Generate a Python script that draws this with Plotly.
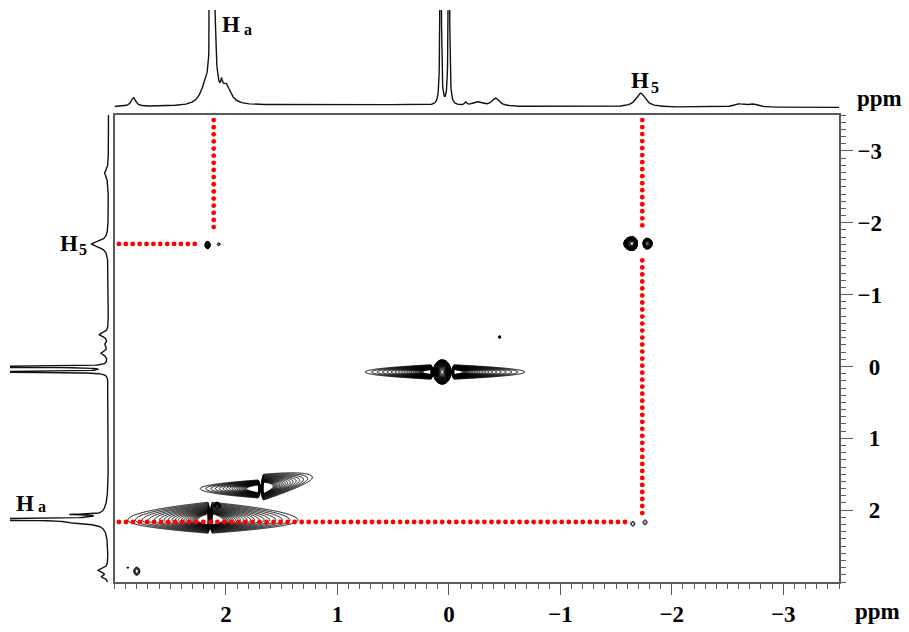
import numpy as np
import plotly.graph_objects as go

# ---------------- axes (ppm) ----------------
F2_RANGE = [3.0, -3.5]          # left -> right
F1_RANGE = [3.0, -3.5]          # bottom -> top
F2_TICKS = [2, 1, 0, -1, -2, -3]
F1_TICKS = [-3, -2, -1, 0, 1, 2]

# assigned shifts used for the correlation guides
HA_F2, HA_F1 = 2.11, 2.165
H5_F2, H5_F1 = -1.735, -1.705

# ---------------- 1D projection along F2 (top trace) ----------------
top_pos    = [2.83, 2.19, 2.12, 2.04, 2.00, 1.00, 0.074, 0.00, -0.15, -0.25, -0.42, -1.72, -2.60, -2.72]
top_height = [9,    14,   800,  8,    18,   3.5,  400,   400,  3,     4,     8,     14,    3,     3]
top_hw     = [0.025, 0.05, 0.008, 0.008, 0.05, 0.9, 0.004, 0.004, 0.01, 0.05, 0.04, 0.05, 0.05, 0.05]

# ---------------- 1D projection along F1 (left trace) ----------------
left_pos    = [-2.68, -1.70, -0.44, -0.30, -0.18, 0.005, 0.075, 2.06, 2.13, 2.17, 2.10, 2.84, 2.93]
left_height = [4,     17,    9,     3,     7,     400,   400,   30,   400,  30,   5,    10,   6]
left_hw     = [0.06,  0.05,  0.03,  0.03,  0.03,  0.004, 0.004, 0.006, 0.006, 0.025, 0.15, 0.03, 0.02]

# ---------------- 2D cross / diagonal peaks ----------------
# kind "P": fan-shaped lobe whose nested contours converge on (f2, f1)
# kind "G": compact Gaussian spot
# ext_*: outer-contour reach from the centre (ppm) toward higher/lower F2 and lower/higher F1
pk_kind    = ["P",   "P",   "P",   "P",   "G",   "P",   "P",    "G",   "G",    "G",    "G",    "G",    "G",   "G",   "G",   "G",   "G"]
pk_f2      = [2.16,  2.125, 1.71,  1.665, 2.08,  0.16,  -0.045, 0.06,  -0.455, -1.645, -1.775, 2.165,  2.065, -1.65, -1.76, 2.80,  2.88]
pk_f1      = [2.14,  2.14,  1.70,  1.70,  1.95,  0.077, 0.077,  0.077, -0.41,  -1.71,  -1.71,  -1.69,  -1.70, 2.19,  2.17,  2.85,  2.80]
pk_k       = [6.0,   6.0,   5.0,   5.0,   4.0,   6.0,   6.0,    8.0,   1.0,    6.0,    4.0,    4.0,    0.5,   0.5,   0.5,   1.2,   0.6]
pk_ext_hi  = [0.72,  0.02,  0.52,  0.02,  0.035, 0.59,  0.02,   0.08,  0.0113, 0.076,  0.034,  0.0226, 0.013, 0.018, 0.018, 0.027, 0.0066]
pk_ext_lo  = [0.02,  0.77,  0.02,  0.44,  0.035, 0.02,  0.635,  0.08,  0.0113, 0.048,  0.051,  0.0226, 0.013, 0.018, 0.018, 0.027, 0.0066]
pk_ext_neg = [0.25,  0.25,  0.12,  0.20,  0.06,  0.10,  0.10,   0.17,  0.017,  0.097,  0.076,  0.051,  0.02,  0.033, 0.033, 0.056, 0.0099]
pk_ext_pos = [0.18,  0.18,  0.13,  0.16,  0.06,  0.10,  0.10,   0.17,  0.017,  0.097,  0.076,  0.051,  0.02,  0.033, 0.033, 0.056, 0.0099]
pk_tilt    = [0.0,   0.0,   0.0,   0.35,  0.0,   0.0,   0.0,    0.0,   0.0,    0.0,    0.0,    0.0,    0.0,   0.0,   0.0,   0.0,   0.0]

LOBE_VEXP = 2.0    # F1 exponent of the fan lobes (ring height shrinks slower than length)
LOBE_Q = 3.0       # log-intensity fall-off of the fan lobes
LEVEL_STEP = 0.3   # contour spacing in log intensity (geometric levels)

# grids on which the 2D map is evaluated: (f2_min, f2_max, f1_min, f1_max, step_f2, step_f1)
regions = [
    (1.10, 3.00, 1.30, 3.00, 0.004, 0.005),
    (-0.90, 0.90, -0.50, 0.40, 0.004, 0.005),
    (1.90, 2.35, -1.85, -1.55, 0.002, 0.002),
    (-1.95, -1.45, -1.90, -1.50, 0.002, 0.002),
    (-1.90, -1.50, 2.00, 2.40, 0.002, 0.002),
]

W, H = 909, 632
X0_PX, X1_PX = 114.5, 839.0
Y0_PX, Y1_PX = 115.0, 582.0
PX_PER_PPM_X = (X1_PX - X0_PX) / (F2_RANGE[0] - F2_RANGE[1])
PX_PER_PPM_Y = (Y1_PX - Y0_PX) / (F1_RANGE[0] - F1_RANGE[1])


def px(x):
    return x / W


def py(y):
    return 1 - y / H


def lorentz_sum(axis, pos, hgt, hw):
    out = np.zeros_like(axis)
    for p, h, w in zip(pos, hgt, hw):
        out += h / (1 + ((axis - p) / w) ** 2)
    return out


def log_peak(F2, F1, i):
    dx = F2 - pk_f2[i]
    dy = F1 - (pk_f1[i] + pk_tilt[i] * dx)
    ex = np.where(dx >= 0, pk_ext_hi[i], pk_ext_lo[i])
    ey = np.where(dy >= 0, pk_ext_pos[i], pk_ext_neg[i])
    u = np.abs(dx) / ex
    v = np.abs(dy) / ey
    if pk_kind[i] == "G":
        return pk_k[i] * (1 - u ** 2 - v ** 2)
    d = u + v ** LOBE_VEXP
    return np.minimum(pk_k[i], -LOBE_Q * np.log(np.maximum(d, 1e-9)))


fig = go.Figure()

# ---- 2D contour map (log intensity -> geometric contour levels) ----
for (a, b, c, d, sx, sy) in regions:
    f2 = np.arange(a, b + sx / 2, sx)
    f1 = np.arange(c, d + sy / 2, sy)
    F2, F1 = np.meshgrid(f2, f1)
    z = np.full(F2.shape, -1.0)
    for i in range(len(pk_f2)):
        z = np.maximum(z, log_peak(F2, F1, i))
    z = np.clip(z, -0.5, None).astype(np.float32)
    fig.add_trace(go.Contour(
        x=np.round(f2, 4), y=np.round(f1, 4), z=z,
        xaxis="x", yaxis="y",
        autocontour=False,
        contours=dict(start=0, end=max(pk_k), size=LEVEL_STEP, coloring="lines", showlines=True),
        colorscale=[[0, "black"], [1, "black"]],
        line=dict(width=1.0, smoothing=1),
        showscale=False, hoverinfo="skip",
    ))

# ---- red dotted correlation guides ----
def dotted(f2a, f1a, f2b, f1b, skip_center=None, skip_half=0.0):
    dist_px = np.hypot((f2b - f2a) * PX_PER_PPM_X, (f1b - f1a) * PX_PER_PPM_Y)
    n = int(round(dist_px / 7.0)) + 1
    t = np.linspace(0, 1, n)
    xs = f2a + (f2b - f2a) * t
    ys = f1a + (f1b - f1a) * t
    if skip_center is not None:
        keep = np.abs(ys - skip_center) > skip_half
        xs, ys = xs[keep], ys[keep]
    return xs, ys

guides = [
    dotted(HA_F2, -3.43, HA_F2, -1.94),
    dotted(2.96, H5_F1, 2.28, H5_F1),
    dotted(2.96, HA_F1, -1.58, HA_F1),
    dotted(H5_F2, -3.43, H5_F2, 2.04, skip_center=H5_F1, skip_half=0.17),
]
for xs, ys in guides:
    fig.add_trace(go.Scatter(
        x=xs, y=ys, mode="markers", xaxis="x", yaxis="y",
        marker=dict(size=4.8, color="#ff0000", line=dict(width=0)),
        hoverinfo="skip", showlegend=False,
    ))

# ---- top projection ----
f2_axis = np.linspace(F2_RANGE[0], F2_RANGE[1], 3251)
fig.add_trace(go.Scatter(
    x=f2_axis, y=lorentz_sum(f2_axis, top_pos, top_height, top_hw),
    mode="lines", line=dict(color="#111111", width=1.4),
    xaxis="x2", yaxis="y2", hoverinfo="skip", showlegend=False,
))

# ---- left projection ----
f1_axis = np.linspace(F1_RANGE[0], F1_RANGE[1], 3251)
fig.add_trace(go.Scatter(
    x=lorentz_sum(f1_axis, left_pos, left_height, left_hw), y=f1_axis,
    mode="lines", line=dict(color="#111111", width=1.4),
    xaxis="x3", yaxis="y3", hoverinfo="skip", showlegend=False,
))

FONT = "Liberation Serif"
AX_COLOR = "#5a5a5a"


def tick_text(v, pad):
    s = ("\u2212" if v < 0 else "") + str(abs(v))
    if pad and v >= 0:
        s = "\u2007" + s
    return s


main_dom_x = [px(X0_PX), px(X1_PX)]
main_dom_y = [py(Y1_PX), py(Y0_PX)]

fig.update_layout(
    width=W, height=H,
    margin=dict(l=0, r=0, t=0, b=0),
    paper_bgcolor="white", plot_bgcolor="white",
    showlegend=False,
    xaxis=dict(
        domain=main_dom_x, range=F2_RANGE, anchor="y",
        showgrid=False, zeroline=False,
        showline=True, linecolor=AX_COLOR, linewidth=1.5, mirror=True,
        ticks="outside", ticklen=11, tickwidth=1.3, tickcolor=AX_COLOR,
        tickmode="array", tickvals=F2_TICKS,
        ticktext=[tick_text(v, False) for v in F2_TICKS],
        tickfont=dict(family=FONT, size=23, color="black", weight=700),
        minor=dict(tickmode="linear", tick0=0, dtick=0.1, ticks="outside",
                   ticklen=5, tickwidth=1, tickcolor=AX_COLOR, showgrid=False),
    ),
    yaxis=dict(
        domain=main_dom_y, range=F1_RANGE, anchor="x", side="right",
        showgrid=False, zeroline=False,
        showline=True, linecolor=AX_COLOR, linewidth=1.5, mirror=True,
        ticks="outside", ticklen=12, tickwidth=1.3, tickcolor=AX_COLOR,
        tickmode="array", tickvals=F1_TICKS,
        ticktext=[tick_text(v, True) for v in F1_TICKS],
        tickfont=dict(family=FONT, size=23, color="black", weight=700),
        minor=dict(tickmode="linear", tick0=0, dtick=0.1, ticks="outside",
                   ticklen=5, tickwidth=1, tickcolor=AX_COLOR, showgrid=False),
    ),
    xaxis2=dict(domain=main_dom_x, range=F2_RANGE, anchor="y2", visible=False),
    yaxis2=dict(domain=[py(114), py(10)], range=[-6.5, 97.5], anchor="x2", visible=False),
    xaxis3=dict(domain=[px(10), px(113)], range=[98.5, -4.5], anchor="y3", visible=False),
    yaxis3=dict(domain=main_dom_y, range=F1_RANGE, anchor="x3", visible=False),
)

# peak assignment labels: main letter plus its smaller index
big_font = dict(family=FONT, size=23, color="black", weight=700)
small_font = dict(family=FONT, size=16, color="black", weight=700)
labels = [
    # (letter, letter x, letter y, index, index x, index y)
    ("H", 220, 25, "a", 242, 29),
    ("H", 629, 80, "5", 649, 87),
    ("H", 58, 243, "5", 77, 249),
    ("H", 14, 503, "a", 36, 507),
]
for big, bx, by, small, sx, sy in labels:
    fig.add_annotation(text=big, x=px(bx), y=py(by), xref="paper", yref="paper",
                       xanchor="left", yanchor="middle", showarrow=False, font=big_font)
    fig.add_annotation(text=small, x=px(sx), y=py(sy), xref="paper", yref="paper",
                       xanchor="left", yanchor="middle", showarrow=False, font=small_font)

for x, y in [(879, 99), (877, 611)]:
    fig.add_annotation(text="ppm", x=px(x), y=py(y), xref="paper", yref="paper",
                       xanchor="center", yanchor="middle", showarrow=False, font=big_font)

fig.write_html("out.html")
